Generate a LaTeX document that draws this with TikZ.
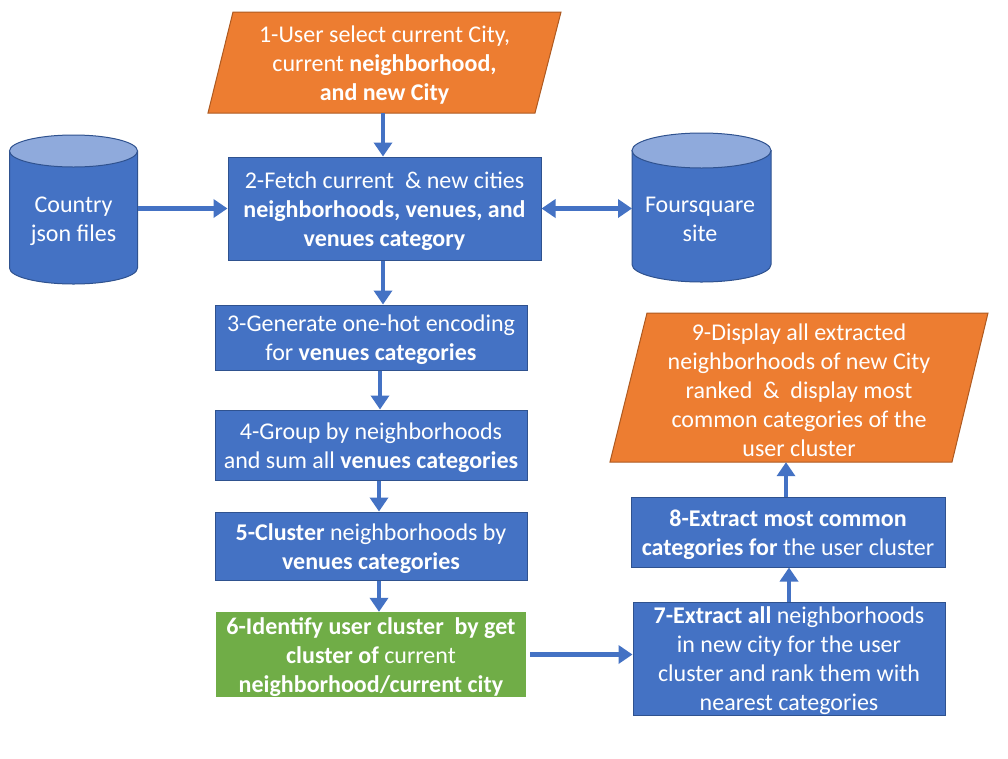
\documentclass[tikz,border=0pt]{standalone}
\usepackage{fontspec}
\setmainfont{Carlito}
\usetikzlibrary{arrows.meta,calc}
\definecolor{myblue}{HTML}{4472C4}
\definecolor{myblueborder}{HTML}{2F528F}
\definecolor{myorange}{HTML}{ED7D31}
\definecolor{myorangeborder}{HTML}{AE5A21}
\definecolor{mygreen}{HTML}{70AD47}
\definecolor{mylight}{HTML}{8FAADC}
\tikzset{
  txt/.style={text=white, align=center, inner sep=0pt, font=\fontsize{24}{29}\selectfont},
  box/.style={rectangle, inner sep=0pt, fill=myblue, draw=myblueborder, line width=1pt},
  greenbox/.style={rectangle, inner sep=0pt, fill=mygreen},
  frame/.style={rectangle, inner sep=0pt},
  ioshape/.style={fill=myorange, draw=myorangeborder, line width=1pt},
  cyl/.style={fill=myblue, draw=myblueborder, line width=1pt},
  cyltop/.style={fill=mylight, draw=myblueborder, line width=1pt},
  arr/.style={draw=myblue, line width=4.5pt, -{Triangle[width=18pt,length=14pt]}},
  dblarr/.style={draw=myblue, line width=4.5pt, {Triangle[width=18pt,length=14pt]}-{Triangle[width=18pt,length=14pt]}},
}
\begin{document}
\begin{tikzpicture}[x=1pt,y=1pt]
\useasboundingbox (0,0) rectangle (1008,-758);
\fill[white] (0,0) rectangle (1008,-758);

% parallelogram 1
\draw[ioshape] (233,-12) -- (561,-12) -- (535,-113) -- (208,-113) -- cycle;
\node[frame, minimum width=353pt, minimum height=101pt] (n1) at (384.5,-62.5) {};
\node[txt] (t1) at ([yshift=-2.5pt]n1.center)
  {1-User select current City,\\ current \textbf{neighborhood,}\\ \textbf{and new City}};

% cylinders
\path[cyl] (9.5,-151) -- (9.5,-268) arc[start angle=180,end angle=360,x radius=64,y radius=16] -- (137.5,-151) -- cycle;
\draw[cyltop] (73.5,-151) ellipse[x radius=64,y radius=16];
\node[txt] (c1) at (73.5,-221) {Country\\ json files};
\coordinate (c1r) at (137.5,-208.5);

\path[cyl] (632,-150.5) -- (632,-264.5) arc[start angle=180,end angle=360,x radius=69.5,y radius=17.5] -- (771,-150.5) -- cycle;
\draw[cyltop] (701.5,-150.5) ellipse[x radius=69.5,y radius=17.5];
\node[txt] (c2) at (700,-219) {Foursquare\\ site};
\coordinate (c2l) at (632,-208.5);

% boxes
\node[box, minimum width=313pt, minimum height=103pt] (n2) at (384.5,-208.5) {};
\node[txt] (t2) at ([yshift=-2.5pt]n2.center)
  {2-Fetch current\ \ \& new cities\\ \textbf{neighborhoods, venues, and}\\ \textbf{venues category}};
\node[box, minimum width=312pt, minimum height=65pt] (n3) at (371,-337.5) {};
\node[txt] (t3) at ([yshift=-2.5pt]n3.center)
  {3-Generate one-hot encoding\\ for \textbf{venues categories}};
\node[box, minimum width=312pt, minimum height=70pt] (n4) at (371,-445) {};
\node[txt] (t4) at ([yshift=-2.5pt]n4.center)
  {4-Group by neighborhoods\\ and sum all \textbf{venues categories}};
\node[box, minimum width=312pt, minimum height=68pt] (n5) at (371,-546) {};
\node[txt] (t5) at ([yshift=-2.5pt]n5.center)
  {\textbf{5-Cluster} neighborhoods by\\ \textbf{venues categories}};
\node[greenbox, minimum width=310pt, minimum height=85pt] (n6) at (371,-654.5) {};
\node[txt] (t6) at ([yshift=-2.5pt]n6.center)
  {\textbf{6-Identify user cluster\ \ by get}\\ \textbf{cluster of} current\\ \textbf{neighborhood/current city}};
\node[box, minimum width=312pt, minimum height=113pt] (n7) at (789,-658.5) {};
\node[txt] (t7) at ([yshift=-2.5pt]n7.center)
  {\textbf{7-Extract all} neighborhoods\\ in new city for the user\\ cluster and rank them with\\ nearest categories};
\node[box, minimum width=314pt, minimum height=70pt] (n8) at (788,-532) {};
\node[txt] (t8) at ([yshift=-2.5pt]n8.center)
  {\textbf{8-Extract most common}\\ \textbf{categories for} the user cluster};

% parallelogram 9
\draw[ioshape] (647,-313) -- (988,-313) -- (952,-462) -- (610,-462) -- cycle;
\node[frame, minimum width=378pt, minimum height=149pt] (n9) at (799,-387.5) {};
\node[txt] (t9) at ([yshift=-2.5pt]n9.center)
  {9-Display all extracted\\ neighborhoods of new City\\ ranked\ \ \&\ \ display most\\ common categories of the\\ user cluster};

% connectors
\draw[arr] ([xshift=-1.5pt]n1.south) -- ([xshift=-1.5pt]n1.south |- n2.north);
\draw[arr] (c1r) -- (n2.west);
\draw[dblarr] (n2.east) -- (c2l);
\draw[arr] ([xshift=-1.5pt]n2.south) -- ([xshift=-1.5pt]n2.south |- n3.north);
\draw[arr] ([xshift=9pt]n3.south) -- ([xshift=9pt]n4.north);
\draw[arr] ([xshift=8pt]n4.south) -- ([xshift=8pt]n5.north);
\draw[arr] ([xshift=8pt]n5.south) -- ([xshift=8pt]n6.north);
\draw[arr] ([xshift=4pt]n6.east) -- (n7.west |- n6.east);
\draw[arr] (n7.north) -- (n7.north |- n8.south);
\draw[arr] ([xshift=-2pt]n8.north) -- ([xshift=-2pt]n8.north |- n9.south);
\end{tikzpicture}
\end{document}
